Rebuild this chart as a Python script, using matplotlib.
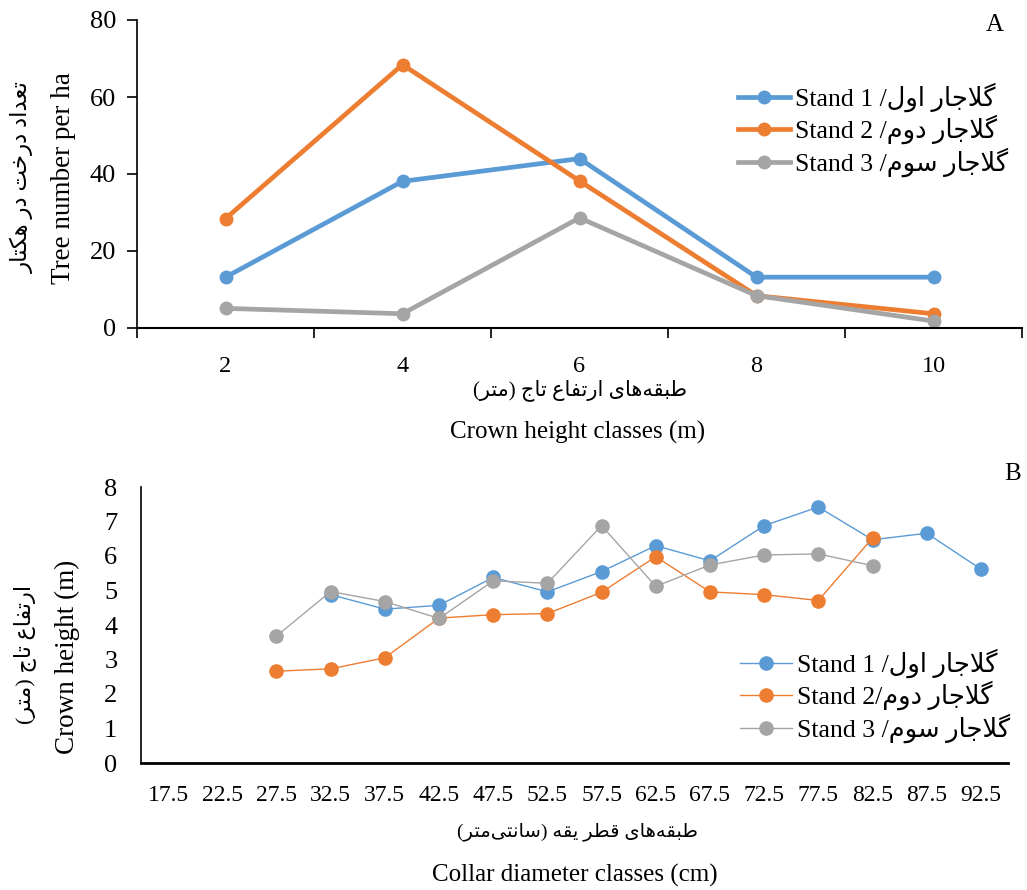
import matplotlib
matplotlib.use("Agg")
import matplotlib.pyplot as plt
import numpy as np

# ---- data ----
height_classes = ['2', '4', '6', '8', '10']
trees_stand1 = [13.2, 38.1, 44.0, 13.2, 13.2]
trees_stand2 = [28.4, 68.4, 38.2, 8.4, 3.7]
trees_stand3 = [5.1, 3.7, 28.6, 8.4, 1.8]

diam_classes = ['17.5', '22.5', '27.5', '32.5', '37.5', '42.5', '47.5', '52.5',
                '57.5', '62.5', '67.5', '72.5', '77.5', '82.5', '87.5', '92.5']
nan = np.nan
crown_stand1 = [nan, nan, nan, 4.88, 4.46, 4.57, 5.38, 4.96, 5.55, 6.30, 5.86,
                6.88, 7.42, 6.47, 6.66, 5.62]
crown_stand2 = [nan, nan, 2.66, 2.73, 3.05, 4.20, 4.30, 4.33, 4.95, 5.98, 4.96,
                4.88, 4.71, 6.52, nan, nan]
crown_stand3 = [nan, nan, 3.68, 4.97, 4.68, 4.19, 5.28, 5.21, 6.88, 5.12, 5.74,
                6.03, 6.06, 5.72, nan, nan]

# ---- tiny persian shaper (matplotlib does no arabic shaping / rtl) ----
FORMS = {
    'ا': ('\uFE8D', '\uFE8E', None, None),
    'ب': ('\uFE8F', '\uFE90', '\uFE91', '\uFE92'),
    'ت': ('\uFE95', '\uFE96', '\uFE97', '\uFE98'),
    'ج': ('\uFE9D', '\uFE9E', '\uFE9F', '\uFEA0'),
    'خ': ('\uFEA5', '\uFEA6', '\uFEA7', '\uFEA8'),
    'د': ('\uFEA9', '\uFEAA', None, None),
    'ر': ('\uFEAD', '\uFEAE', None, None),
    'س': ('\uFEB1', '\uFEB2', '\uFEB3', '\uFEB4'),
    'ط': ('\uFEC1', '\uFEC2', '\uFEC3', '\uFEC4'),
    'ع': ('\uFEC9', '\uFECA', '\uFECB', '\uFECC'),
    'ف': ('\uFED1', '\uFED2', '\uFED3', '\uFED4'),
    'ق': ('\uFED5', '\uFED6', '\uFED7', '\uFED8'),
    'ل': ('\uFEDD', '\uFEDE', '\uFEDF', '\uFEE0'),
    'م': ('\uFEE1', '\uFEE2', '\uFEE3', '\uFEE4'),
    'ن': ('\uFEE5', '\uFEE6', '\uFEE7', '\uFEE8'),
    'ه': ('\uFEE9', '\uFEEA', '\uFEEB', '\uFEEC'),
    'و': ('\uFEED', '\uFEEE', None, None),
    'ک': ('\uFB8E', '\uFB8F', '\uFB90', '\uFB91'),
    'گ': ('\uFB92', '\uFB93', '\uFB94', '\uFB95'),
    'ی': ('\uFBFC', '\uFBFD', '\uFBFE', '\uFBFF'),
    'LA': ('\uFEFB', '\uFEFC', None, None),
}


def fa(s):
    toks = []
    i = 0
    while i < len(s):
        if s[i] == 'ل' and i + 1 < len(s) and s[i + 1] == 'ا':
            toks.append('LA')
            i += 2
        else:
            toks.append(s[i])
            i += 1
    out = []
    for k, t in enumerate(toks):
        if t not in FORMS:
            if t != '\u200c':
                out.append(t)
            continue
        prev = toks[k - 1] if k > 0 else None
        nxt = toks[k + 1] if k + 1 < len(toks) else None
        jp = prev in FORMS and FORMS[prev][2] is not None
        jn = nxt in FORMS and FORMS[t][2] is not None
        f = FORMS[t]
        if jp and jn:
            out.append(f[3])
        elif jp:
            out.append(f[1])
        elif jn:
            out.append(f[2])
        else:
            out.append(f[0])
    vis = ''.join(reversed(out))
    return vis.translate(str.maketrans('()', ')('))


plt.rcParams['font.family'] = ['Liberation Serif', 'DejaVu Sans']
c1, c2, c3 = '#5B9BD5', '#ED7D31', '#A5A5A5'

fig = plt.figure(figsize=(10.27, 8.9), dpi=100)
W, H = 1027.0, 890.0


def fx(x):
    return x / W


def fy(y):
    return 1 - y / H


# ---- panel A ----
ax1 = fig.add_axes([fx(137), fy(328), fx(1022) - fx(137), fy(20) - fy(328)])
xa = np.arange(len(height_classes))
ax1.plot(xa, trees_stand1, color=c1, lw=3.4, marker='o', ms=9,
         label='Stand 1 /' + fa('گلاجار اول'))
ax1.plot(xa, trees_stand2, color=c2, lw=3.4, marker='o', ms=9,
         label='Stand 2 /' + fa('گلاجار دوم'))
ax1.plot(xa, trees_stand3, color=c3, lw=3.4, marker='o', ms=9,
         label='Stand 3 /' + fa('گلاجار سوم'))
ax1.set_xlim(-0.5, len(height_classes) - 0.5)
ax1.set_ylim(0, 80)
ax1.set_yticks([0, 20, 40, 60, 80])
ax1.set_xticks(xa)
ax1.set_xticklabels(height_classes)
ax1.set_xticks(np.arange(-0.5, len(height_classes)), minor=True)
ax1.tick_params(axis='x', which='major', length=0, pad=20, labelsize=17.5)
ax1.tick_params(axis='x', which='minor', length=7, width=1.2, direction='out')
ax1.tick_params(axis='y', length=7, width=1.2, pad=8, labelsize=19)
for s in ['top', 'right']:
    ax1.spines[s].set_visible(False)
ax1.spines['left'].set_linewidth(1.2)
ax1.spines['bottom'].set_linewidth(1.5)
ax1.legend(loc='upper left', bbox_to_anchor=(fx(728), fy(72)),
           bbox_transform=fig.transFigure, frameon=False, fontsize=18.5,
           handlelength=2.0, handletextpad=0.2, labelspacing=0.12,
           borderaxespad=0)

fig.text(fx(22), fy(177), fa('تعداد درخت در هکتار'), rotation=90,
         ha='center', va='center', fontsize=16.5)
fig.text(fx(63), fy(178), 'Tree number per ha', rotation=90,
         ha='center', va='center', fontsize=19.5)
fig.text(fx(580), fy(390), fa('طبقه‌های ارتفاع تاج (متر)'),
         ha='center', va='center', fontsize=15)
fig.text(fx(578), fy(432), 'Crown height classes (m)',
         ha='center', va='center', fontsize=18)
fig.text(fx(995), fy(25), 'A', ha='center', va='center', fontsize=18)

# ---- panel B ----
ax2 = fig.add_axes([fx(141), fy(763), fx(1008) - fx(141), fy(487) - fy(763)])
xb = np.arange(len(diam_classes))
ax2.plot(xb, crown_stand1, color=c1, lw=1.0, marker='o', ms=9.5,
         label='Stand 1 /' + fa('گلاجار اول'))
ax2.plot(xb, crown_stand2, color=c2, lw=1.0, marker='o', ms=9.5,
         label='Stand 2/' + fa('گلاجار دوم'))
ax2.plot(xb, crown_stand3, color=c3, lw=1.0, marker='o', ms=9.5,
         label='Stand 3 /' + fa('گلاجار سوم'))
ax2.set_xlim(-0.5, len(diam_classes) - 0.5)
ax2.set_ylim(0, 8)
ax2.set_yticks(range(0, 9))
ax2.set_xticks(xb)
ax2.set_xticklabels(diam_classes)
ax2.tick_params(axis='x', length=0, pad=16, labelsize=17)
ax2.tick_params(axis='y', length=0, pad=17, labelsize=19)
for s in ['top', 'right']:
    ax2.spines[s].set_visible(False)
ax2.spines['left'].set_linewidth(1.2)
ax2.spines['bottom'].set_linewidth(2.0)
ax2.legend(loc='upper left', bbox_to_anchor=(fx(730), fy(638)),
           bbox_transform=fig.transFigure, frameon=False, fontsize=18.5,
           handlelength=2.0, handletextpad=0.2, labelspacing=0.12,
           borderaxespad=0)

fig.text(fx(25), fy(654), fa('ارتفاع تاج (متر)'), rotation=90,
         ha='center', va='center', fontsize=16)
fig.text(fx(67), fy(657), 'Crown height (m)', rotation=90,
         ha='center', va='center', fontsize=19.5)
fig.text(fx(577), fy(832), fa('طبقه‌های قطر یقه (سانتی‌متر)'),
         ha='center', va='center', fontsize=14)
fig.text(fx(575), fy(875), 'Collar diameter classes (cm)',
         ha='center', va='center', fontsize=18)
fig.text(fx(1013), fy(474), 'B', ha='center', va='center', fontsize=18)

fig.savefig('out.png', dpi=100)
